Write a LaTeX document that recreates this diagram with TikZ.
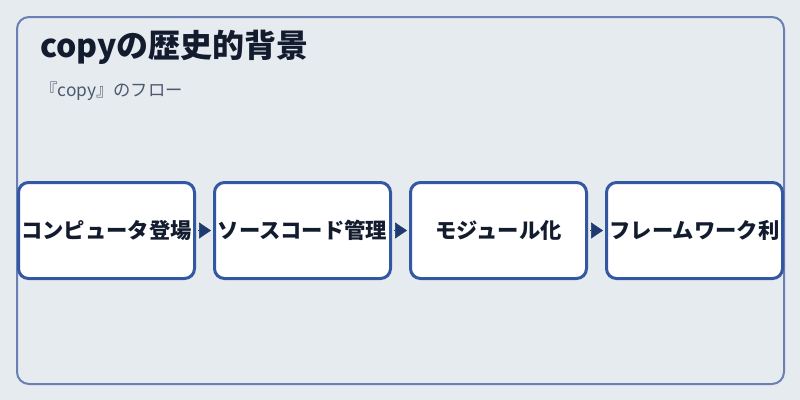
\documentclass[tikz,border=0pt]{standalone}
\usepackage{fontspec}
\setmainfont{Noto Sans CJK JP}
\usepackage{xcolor}
\usepackage{tikz}
\usetikzlibrary{positioning,arrows.meta}
\definecolor{pagebg}{HTML}{E6EBF0}
\definecolor{framecol}{HTML}{6A80B2}
\definecolor{boxcol}{HTML}{3457A2}
\definecolor{arrowcol}{HTML}{1F3A6E}
\definecolor{ink}{HTML}{131C2E}
\definecolor{subink}{HTML}{4B596E}
\tikzset{frame/.style={draw=framecol, line width=1.5pt, rounded corners=9pt, fill=pagebg}}
\tikzset{stepbox/.style={draw=boxcol, line width=2.25pt, rounded corners=7.5pt, fill=white, minimum width=132pt, minimum height=72pt, inner sep=0pt, outer sep=0pt, text=ink, font=\bfseries\fontsize{16}{19}\selectfont}}
\tikzset{flow/.style={-{Triangle[length=9pt,width=12pt]}, draw=arrowcol, fill=arrowcol, line width=0.5pt, shorten <=2.6pt, shorten >=2.6pt}}

\begin{document}
\begin{tikzpicture}[x=0.75pt,y=-0.75pt]
		\fill[pagebg] (0,0) rectangle (800,400);
		\useasboundingbox (0,0) rectangle (800,400);
		\draw[frame] (17,17) rectangle (784,384);
		
		\node[anchor=base west, inner sep=0pt, text=ink, font=\bfseries\fontsize{24}{28}\selectfont] (title) at (40,57) {copyの歴史的背景};
		\node[anchor=base west, inner sep=0pt, text=subink, font=\fontsize{13}{16}\selectfont] (subtitle) at (40,96) {『copy』のフロー};
		
		\node[stepbox] (computer) at (106.5,230.5) {コンピュータ登場};
		\node[stepbox, right=15pt of computer] (scm) {ソースコード管理};
		\node[stepbox, right=15pt of scm] (module) {モジュール化};
		\node[stepbox, right=15pt of module] (framework) {フレームワーク利};
		
		\draw[flow] (computer) -- (scm);
		\draw[flow] (scm) -- (module);
		\draw[flow] (module) -- (framework);
	\end{tikzpicture}
\end{document}
